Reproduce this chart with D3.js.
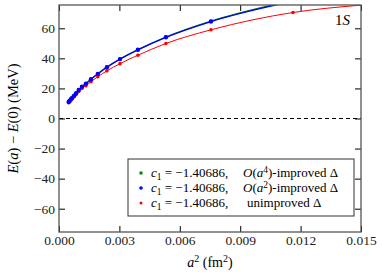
<!DOCTYPE html>
<html>
<head>
<meta charset="utf-8">
<script src="https://cdn.jsdelivr.net/npm/d3@7"></script>
<style>
  body { margin: 0; background: #fff; }
  svg text { font-family: "Liberation Serif", "Times New Roman", serif !important; }
</style>
</head>
<body>
<div id="chart"></div>
<script>
// lattice spacing squared (fm^2), coarse -> fine
let a2 = [0.01162, 0.00755, 0.00531, 0.00392, 0.00303, 0.00238, 0.00193, 0.00159, 0.00134,
          0.00114, 0.00098, 0.00085, 0.00075, 0.00066, 0.00059, 0.00053, 0.00048];
// E(a) - E(0) in MeV
let unimproved = [70.5, 59.0, 49.9, 42.1, 36.5, 31.7, 27.8, 24.5, 21.8, 20.0, 18.0, 15.9, 14.4, 13.2, 12.2, 11.3, 10.5];
let improvedA2 = [78.0, 64.5, 54.0, 45.7, 39.5, 34.1, 29.7, 26.1, 23.2, 21.2, 19.0, 16.8, 15.2, 13.9, 12.8, 11.8, 11.0];
let improvedA4 = [78.6, 64.8, 54.2, 45.8, 39.6, 34.2, 29.8, 26.2, 23.3, 21.2, 19.0, 16.8, 15.2, 13.9, 12.8, 11.8, 11.0];
// the red fit line runs on to the right edge
let unimprovedEnd = [0.015, 75.4];

let xTicks = [0, 0.003, 0.006, 0.009, 0.012, 0.015];
let yTicks = [-60, -40, -20, 0, 20, 40, 60];

let legendLabels = [
    { color: "#008000", shape: "square", tail: ["O", "(", "a", "4", ")-improved \u0394"] },
    { color: "#0000ff", shape: "circle", tail: ["O", "(", "a", "2", ")-improved \u0394"] },
    { color: "#ff0000", shape: "circle", tail: null }
];

let margin = { top: 5, right: 21, bottom: 45, left: 59 };
let width = 382 - margin.left - margin.right;
let height = 277 - margin.top - margin.bottom;

let x = d3.scaleLinear().domain([0, 0.015]).range([0, width]);
let y = d3.scaleLinear().domain([-75.5, 75.5]).range([height, 0]);

let svg = d3.select("#chart").append("svg")
    .attr("width", 382)
    .attr("height", 277)
    .attr("font-family", "Liberation Serif");

let g = svg.append("g")
    .attr("transform", "translate(" + margin.left + "," + margin.top + ")");

g.append("clipPath").attr("id", "clip")
    .append("rect").attr("width", width).attr("height", height);

// dashed zero line
g.append("line")
    .attr("x1", 0).attr("x2", width)
    .attr("y1", y(0)).attr("y2", y(0))
    .style("stroke", "#000")
    .style("stroke-width", 1)
    .style("stroke-dasharray", "4,3");

let line = d3.line()
    .x(function (d) { return x(d[0]); })
    .y(function (d) { return y(d[1]); })
    .curve(d3.curveMonotoneX);

let plot = g.append("g").attr("clip-path", "url(#clip)");

function series(vals, extra) {
    let pts = a2.map(function (d, i) { return [d, vals[i]]; });
    if (extra) pts.unshift(extra);
    return pts.sort(function (p, q) { return p[0] - q[0]; });
}

// green (under blue)
plot.append("path")
    .datum(series(improvedA4))
    .attr("d", line)
    .style("fill", "none").style("stroke", "#008000").style("stroke-width", 1.3);
plot.selectAll(".g4").data(a2).enter().append("rect")
    .attr("x", function (d) { return x(d) - 1.5; })
    .attr("y", function (d, i) { return y(improvedA4[i]) - 1.5; })
    .attr("width", 3).attr("height", 3)
    .style("fill", "#008000");

// red
plot.append("path")
    .datum(series(unimproved, unimprovedEnd))
    .attr("d", line)
    .style("fill", "none").style("stroke", "#ff0000").style("stroke-width", 1);
plot.selectAll(".r").data(a2).enter().append("circle")
    .attr("cx", function (d) { return x(d); })
    .attr("cy", function (d, i) { return y(unimproved[i]); })
    .attr("r", 1.8)
    .style("fill", "#ff0000");

// blue
plot.append("path")
    .datum(series(improvedA2))
    .attr("d", line)
    .style("fill", "none").style("stroke", "#0000ff").style("stroke-width", 1.3);
plot.selectAll(".b").data(a2).enter().append("circle")
    .attr("cx", function (d) { return x(d); })
    .attr("cy", function (d, i) { return y(improvedA2[i]); })
    .attr("r", 2.2)
    .style("fill", "#0000ff");

// axes, ticks pointing inwards
let fmtX = d3.format(".3f");
let axBottom = g.append("g").attr("transform", "translate(0," + height + ")")
    .call(d3.axisBottom(x).tickValues(xTicks).tickFormat(fmtX).tickSizeInner(-6).tickSizeOuter(0).tickPadding(3.5));
let axTop = g.append("g")
    .call(d3.axisTop(x).tickValues(xTicks).tickFormat("").tickSizeInner(-6).tickSizeOuter(0));
let axLeft = g.append("g")
    .call(d3.axisLeft(y).tickValues(yTicks).tickSizeInner(-6).tickSizeOuter(0).tickPadding(4));
let axRight = g.append("g").attr("transform", "translate(" + width + ",0)")
    .call(d3.axisRight(y).tickValues(yTicks).tickFormat("").tickSizeInner(-6).tickSizeOuter(0));

[axBottom, axTop, axLeft, axRight].forEach(function (ax) {
    ax.attr("font-family", "Liberation Serif").attr("font-size", 13.5);
    ax.select(".domain").remove();
    ax.selectAll("line").style("stroke", "#000").style("stroke-width", 1);
    ax.selectAll("text").style("fill", "#222");
});

// frame
g.append("rect")
    .attr("width", width).attr("height", height)
    .style("fill", "none").style("stroke", "#555").style("stroke-width", 1.3);

// 1S label
let lab = g.append("text")
    .attr("x", 291).attr("y", 20)
    .attr("text-anchor", "end")
    .style("font-size", "15px");
lab.append("tspan").text("1");
lab.append("tspan").style("font-style", "italic").text("S");

// legend
let lg = svg.append("g");
lg.append("rect")
    .attr("x", 128).attr("y", 159).attr("width", 226).attr("height", 57)
    .style("fill", "#fff").style("stroke", "#333").style("stroke-width", 1);

legendLabels.forEach(function (d, i) {
    let cy = 173 + i * 15;
    if (d.shape === "square") {
        lg.append("rect").attr("x", 139.5).attr("y", cy - 1.5).attr("width", 3).attr("height", 3).style("fill", d.color);
    } else {
        lg.append("circle").attr("cx", 141).attr("cy", cy).attr("r", d.color === "#ff0000" ? 1.5 : 1.8).style("fill", d.color);
    }
    let t = lg.append("text").attr("x", 151).attr("y", cy + 4).style("font-size", "13px");
    t.append("tspan").style("font-style", "italic").text("c");
    t.append("tspan").attr("dy", 2.5).style("font-size", "9.5px").text("1");
    t.append("tspan").attr("dy", -2.5).text(" = \u22121.40686,");

    let t2 = lg.append("text").attr("y", cy + 4).style("font-size", "13px");
    if (d.tail) {
        t2.attr("x", 243);
        t2.append("tspan").style("font-style", "italic").text(d.tail[0]);
        t2.append("tspan").text(d.tail[1]);
        t2.append("tspan").style("font-style", "italic").text(d.tail[2]);
        t2.append("tspan").attr("dy", -4.5).style("font-size", "9.5px").text(d.tail[3]);
        t2.append("tspan").attr("dy", 4.5).text(d.tail[4]);
    } else {
        t2.attr("x", 247).text("unimproved \u0394");
    }
});

// axis titles
let xl = svg.append("text")
    .attr("x", margin.left + width / 2).attr("y", 267)
    .attr("text-anchor", "middle")
    .style("font-size", "14px");
xl.append("tspan").style("font-style", "italic").text("a");
xl.append("tspan").attr("dy", -5).style("font-size", "10px").text("2");
xl.append("tspan").attr("dy", 5).text(" (fm");
xl.append("tspan").attr("dy", -5).style("font-size", "10px").text("2");
xl.append("tspan").attr("dy", 5).text(")");

let yl = svg.append("text")
    .attr("transform", "translate(18," + (margin.top + height / 2) + ") rotate(-90)")
    .attr("text-anchor", "middle")
    .style("font-size", "14.5px");
yl.append("tspan").style("font-style", "italic").text("E");
yl.append("tspan").text("(");
yl.append("tspan").style("font-style", "italic").text("a");
yl.append("tspan").text(") \u2212 ");
yl.append("tspan").style("font-style", "italic").text("E");
yl.append("tspan").text("(0)  (MeV)");
</script>
</body>
</html>
